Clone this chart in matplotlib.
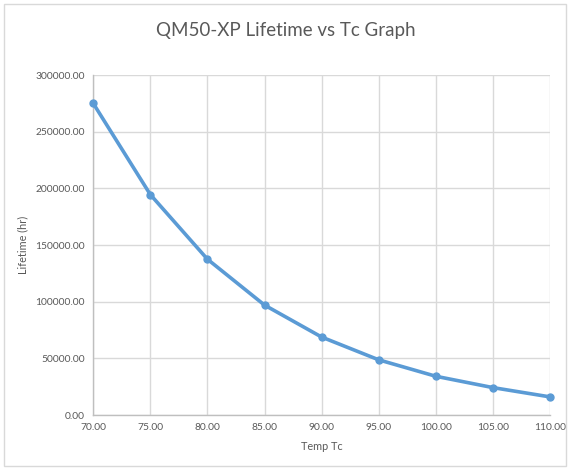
import matplotlib
matplotlib.use("Agg")
import matplotlib.pyplot as plt
from matplotlib.patches import Rectangle
from matplotlib.ticker import FormatStrFormatter

# Data
temp_tc = [70, 75, 80, 85, 90, 95, 100, 105, 110]
lifetime_hr = [275000, 194500, 137500, 97000, 68800, 48700, 34200, 24200, 16000]

plt.rcParams['font.family'] = ['Lato', 'DejaVu Sans']

fig = plt.figure(figsize=(5.72, 4.68), dpi=100)
ax = fig.add_axes([0.163, 0.1132, 0.7985, 0.7265])

# outer chart border
fig.patches.append(Rectangle((4 / 572, 2 / 468), 562 / 572, 462 / 468, transform=fig.transFigure,
                             fill=False, edgecolor='#d9d9d9', linewidth=1))

ax.plot(temp_tc, lifetime_hr, color='#5b9bd5', linewidth=2.6, marker='o', markersize=5,
        solid_capstyle='round', zorder=3, clip_on=False)

ax.set_xlim(70, 110)
ax.set_ylim(0, 300000)
ax.set_xticks(range(70, 111, 5))
ax.set_yticks(range(0, 300001, 50000))
ax.xaxis.set_major_formatter(FormatStrFormatter('%.2f'))
ax.yaxis.set_major_formatter(FormatStrFormatter('%.2f'))

ax.grid(True, color='#d9d9d9', linewidth=1)
ax.set_axisbelow(True)
for side in ['top', 'right']:
    ax.spines[side].set_visible(False)
for side in ['left', 'bottom']:
    ax.spines[side].set_color('#bfbfbf')
    ax.spines[side].set_linewidth(1)
ax.tick_params(length=0, labelsize=7.4, labelcolor='#595959', pad=6)

ax.set_xlabel('Temp Tc', fontsize=7.8, color='#595959', labelpad=6)
ax.set_ylabel('Lifetime (hr)', fontsize=7.8, color='#595959')
ax.yaxis.set_label_coords(-0.142, 0.5)
fig.text(0.5, 0.935, 'QM50-XP Lifetime vs Tc Graph', ha='center', va='center',
         fontsize=13.5, color='#595959')

fig.savefig('out.png', dpi=100)
